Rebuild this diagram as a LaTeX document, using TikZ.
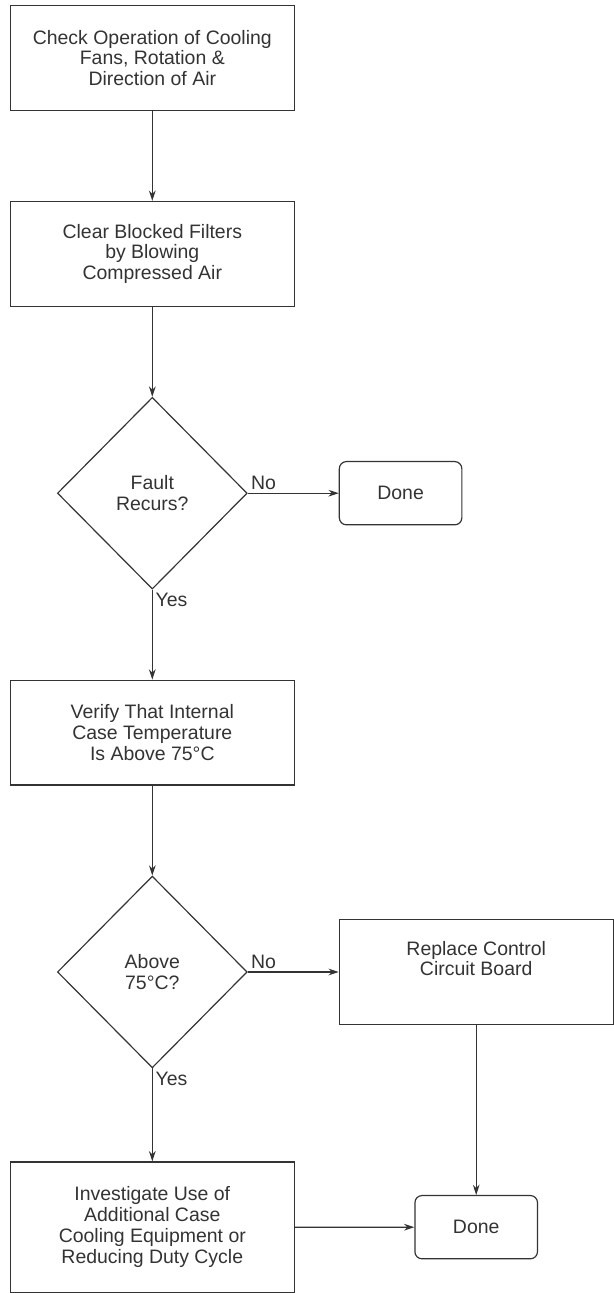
\documentclass[tikz,border=0pt]{standalone}
\usepackage{fontspec}
\setmainfont{Liberation Sans}
\usetikzlibrary{arrows.meta,calc,positioning,shapes.geometric}
\definecolor{traco}{HTML}{333333}

\begin{document}
\begin{tikzpicture}[
  node distance=2.275cm and 2.3cm,
  passo/.style={draw=traco,line width=0.85pt,text=traco,minimum width=7.175cm,
               minimum height=2.65cm,align=center,font=\fontsize{14}{15}\selectfont},
  teste/.style={draw=traco,line width=0.85pt,text=traco,diamond,aspect=1,inner sep=0pt,
               minimum width=4.8cm,minimum height=4.85cm,align=center,
               font=\fontsize{14}{15}\selectfont},
  fim/.style={draw=traco,line width=0.85pt,text=traco,rounded corners=0.18cm,
              minimum width=3.1cm,minimum height=1.6cm,font=\fontsize{14}{15}\selectfont},
  arr/.style={-{Stealth[length=2.6mm,width=1.7mm]},line width=0.85pt,draw=traco},
  rot/.style={text=traco,font=\fontsize{14}{15}\selectfont,inner sep=2pt}
]
  \node[passo] (fans) {Check Operation of Cooling\\Fans, Rotation \&\\Direction of Air};
  \node[passo,below=of fans] (filters) {Clear Blocked Filters\\by Blowing\\Compressed Air};
  \node[teste,below=of filters] (recurs) {Fault\\Recurs?};
  \node[fim,right=of recurs] (done1) {Done};
  \node[passo,below=of recurs] (verify) {Verify That Internal\\Case Temperature\\Is Above 75°C};
  \node[teste,below=of verify] (above) {Above\\75°C?};
  \node[passo,right=of above,minimum width=6.925cm] (replace) {Replace Control\\Circuit Board\\\strut};
  \node[fim,below=4.3cm of replace] (done2) {Done};
  \node[passo,below=2.35cm of above,minimum height=3.3cm] (invest)
    {Investigate Use of\\Additional Case\\Cooling Equipment or\\Reducing Duty Cycle};
  \useasboundingbox ($(fans.north west)+(-0.25,0.125)$) rectangle ++(15.525,-32.325);
  \draw[arr] (fans) -- (filters);
  \draw[arr] (filters) -- (recurs);
  \draw[arr] (recurs) -- node[pos=0,above right,rot]{No} (done1);
  \draw[arr] (recurs) -- node[pos=0,below right,rot]{Yes} (verify);
  \draw[arr] (verify) -- (above);
  \draw[arr] (above) -- node[pos=0,above right,rot]{No} (replace);
  \draw[arr] (above) -- node[pos=0,below right,rot]{Yes} (invest);
  \draw[arr] (replace) -- (done2);
  \draw[arr] (invest) -- (done2);
\end{tikzpicture}
\end{document}
